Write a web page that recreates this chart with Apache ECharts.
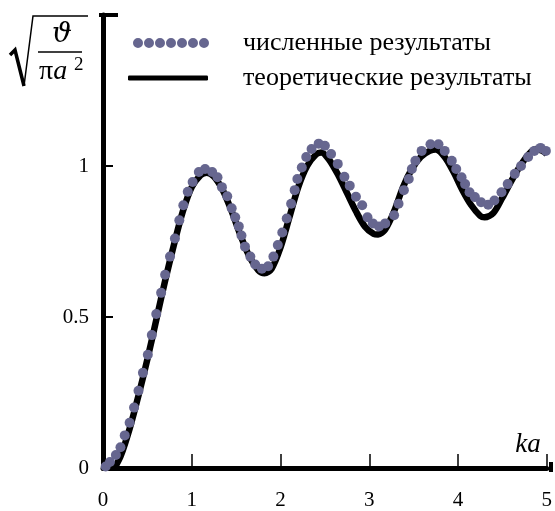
<!DOCTYPE html>
<html><head><meta charset="utf-8">
<script src="https://cdn.jsdelivr.net/npm/echarts@6/dist/echarts.min.js"></script>
<style>html,body{margin:0;padding:0;background:#fff}#c{width:555px;height:511px}</style>
</head><body><div id="c"></div>
<script>
const FONT = "'Liberation Serif','Times New Roman','DejaVu Serif',serif";
const xTicks = [1, 2, 3, 4, 5];
const xLabels = [0, 1, 2, 3, 4, 5];
const yTicks = [0.5, 1];
const yLabels = [0, 0.5, 1];
const seriesNames = ['численные результаты', 'теоретические результаты'];

// theoretical curve (black line)
const kaTheory = [0.13,0.2,0.3,0.4,0.5,0.6,0.7,0.8,0.9,1.0,1.1,1.17,1.25,1.35,1.45,1.55,1.65,1.75,1.82,1.9,2.0,2.1,2.2,2.3,2.4,2.46,2.55,2.65,2.75,2.85,2.95,3.05,3.1,3.18,3.28,3.38,3.48,3.58,3.68,3.75,3.85,3.95,4.05,4.15,4.25,4.3,4.4,4.5,4.6,4.7,4.8,4.88,4.95,5.0];
const valTheory = [0,0.04,0.13,0.24,0.36,0.49,0.62,0.74,0.85,0.93,0.97,0.978,0.965,0.92,0.85,0.77,0.70,0.655,0.645,0.66,0.73,0.83,0.93,1.0,1.038,1.045,1.02,0.97,0.91,0.85,0.80,0.775,0.773,0.79,0.85,0.93,0.99,1.03,1.05,1.055,1.03,0.98,0.92,0.87,0.835,0.83,0.845,0.895,0.95,1.0,1.04,1.056,1.05,1.04];

// numerical results (dots)
const kaNumeric = [0.03,0.078,0.145,0.197,0.245,0.30,0.35,0.40,0.45,0.505,0.55,0.60,0.655,0.70,0.755,0.81,0.86,0.905,0.955,1.01,1.08,1.15,1.23,1.29,1.34,1.40,1.45,1.49,1.53,1.56,1.60,1.66,1.715,1.79,1.86,1.92,1.97,2.02,2.07,2.12,2.16,2.19,2.24,2.29,2.35,2.43,2.50,2.57,2.645,2.72,2.78,2.85,2.92,2.98,3.04,3.11,3.18,3.28,3.33,3.39,3.445,3.48,3.52,3.59,3.69,3.78,3.85,3.93,3.98,4.04,4.08,4.13,4.19,4.26,4.34,4.41,4.49,4.56,4.64,4.71,4.79,4.86,4.93,4.99];
const valNumeric = [0.005,0.02,0.043,0.069,0.108,0.15,0.20,0.256,0.315,0.375,0.44,0.51,0.58,0.64,0.70,0.76,0.82,0.87,0.915,0.947,0.98,0.99,0.98,0.963,0.93,0.90,0.86,0.83,0.80,0.77,0.733,0.70,0.674,0.66,0.668,0.70,0.738,0.78,0.826,0.875,0.92,0.957,0.995,1.03,1.056,1.074,1.067,1.04,1.007,0.964,0.935,0.898,0.87,0.83,0.81,0.80,0.81,0.837,0.875,0.92,0.957,0.99,1.017,1.05,1.072,1.072,1.05,1.017,0.99,0.963,0.94,0.913,0.897,0.88,0.872,0.886,0.913,0.94,0.974,1.0,1.03,1.05,1.06,1.05];

const DOT = '#66668f';
const dotsIcon = 'path://' + [0,1,2,3,4,5,6].map(i => 'M' + (i*11) + ',5a5,5 0 1,0 10,0a5,5 0 1,0 -10,0z').join(' ');

const chart = echarts.init(document.getElementById('c'), null, {renderer: 'canvas'});
chart.setOption({
  backgroundColor: '#fff',
  animation: false,
  grid: {left: 103, right: 4, top: 15, bottom: 40, containLabel: false},
  xAxis: {
    type: 'value', min: 0, max: 5, interval: 1,
    name: 'ka', nameLocation: 'end', nameGap: -6,
    nameTextStyle: {fontFamily: FONT, fontStyle: 'italic', fontSize: 27, color: '#000', align: 'right', verticalAlign: 'bottom', padding: [0,0,10,0]},
    axisLine: {show: true, lineStyle: {color: '#000', width: 5}},
    axisTick: {show: true, inside: true, length: 14, customValues: xTicks, lineStyle: {color: '#000', width: 1.5}},
    axisLabel: {margin: 22, fontSize: 21, color: '#000', fontFamily: FONT, customValues: xLabels, showMaxLabel: true},
    splitLine: {show: false}
  },
  yAxis: {
    type: 'value', min: 0, max: 1.5, interval: 0.5,
    axisLine: {show: true, lineStyle: {color: '#000', width: 5}},
    axisTick: {show: true, inside: true, length: 10, customValues: yTicks, lineStyle: {color: '#000', width: 2}},
    axisLabel: {margin: 14, fontSize: 21, color: '#000', fontFamily: FONT, customValues: yLabels},
    splitLine: {show: false}
  },
  legend: [
    {data: [{name: seriesNames[0], icon: dotsIcon}], left: 133, top: 30, padding: 0, itemWidth: 76, itemHeight: 10,
     textStyle: {fontFamily: FONT, fontSize: 26, color: '#000', padding: [0,0,0,29]}, selectedMode: false},
    {data: [{name: seriesNames[1], icon: 'roundRect'}], left: 128, top: 65, padding: 0, itemWidth: 80, itemHeight: 5,
     textStyle: {fontFamily: FONT, fontSize: 26, color: '#000', padding: [0,0,0,30]}, selectedMode: false}
  ],
  series: [
    {name: seriesNames[0], type: 'scatter', symbol: 'circle', symbolSize: 10, z: 5,
     itemStyle: {color: DOT, opacity: 1},
     data: kaNumeric.map((k, i) => [k, valNumeric[i]])},
    {name: seriesNames[1], type: 'line', showSymbol: false, smooth: 0.3, z: 3,
     color: '#000', lineStyle: {color: '#000', width: 6.5},
     data: kaTheory.map((k, i) => [k, valTheory[i]])}
  ],
  graphic: [
    {type: 'rect', shape: {x: 99, y: 13, width: 19, height: 4}, style: {fill: '#000'}},
    {type: 'rect', shape: {x: 549, y: 462, width: 4, height: 10}, style: {fill: '#000'}},
    {type: 'polyline', shape: {points: [[10,55],[15,50],[24,86]]}, style: {stroke: '#000', lineWidth: 3.5, fill: null}},
    {type: 'polyline', shape: {points: [[24,86],[33,16],[88,16]]}, style: {stroke: '#000', lineWidth: 1.5, fill: null}},
    {type: 'line', shape: {x1: 38, y1: 52, x2: 82, y2: 52}, style: {stroke: '#000', lineWidth: 1.5}},
    {type: 'text', style: {text: 'ϑ', x: 62, y: 49, align: 'center', verticalAlign: 'bottom', font: "italic 28px 'DejaVu Serif', serif", fill: '#000'}},
    {type: 'text', style: {text: '{p|π}{a|a}', x: 39, y: 86, align: 'left', verticalAlign: 'bottom',
      rich: {p: {fontFamily: FONT, fontSize: 28, fill: '#000'}, a: {fontFamily: FONT, fontStyle: 'italic', fontSize: 28, fill: '#000'}}}},
    {type: 'text', style: {text: '2', x: 74, y: 75, align: 'left', verticalAlign: 'bottom', font: "19px 'Liberation Serif', serif", fill: '#000'}}
  ]
});
</script></body></html>
